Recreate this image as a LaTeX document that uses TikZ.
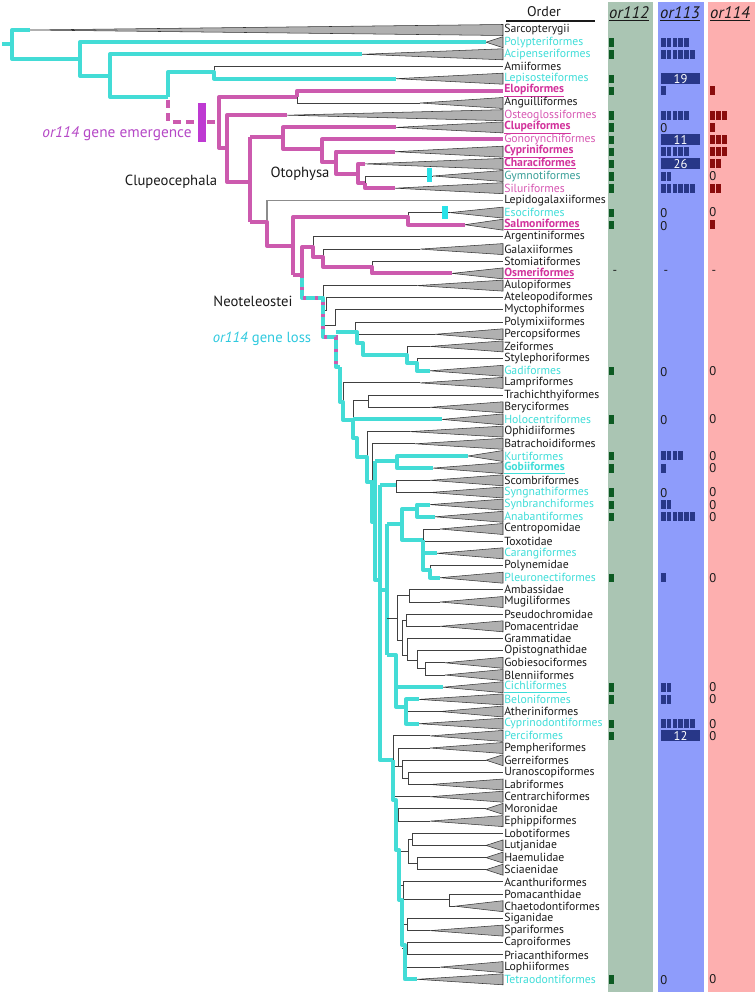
\documentclass[tikz,border=0pt]{standalone}
\usepackage{fontspec}
\setmainfont{PT Sans}
\definecolor{cyT}{HTML}{43DCD6}
\definecolor{mgT}{HTML}{CC5AAE}
\definecolor{labM}{HTML}{D757B2}
\definecolor{labMb}{HTML}{D2339C}
\definecolor{labC}{HTML}{3FDDD8}
\definecolor{labG}{HTML}{3A9F98}
\definecolor{purp}{HTML}{BE3AD2}
\definecolor{purpL}{HTML}{B548C6}
\definecolor{lossC}{HTML}{2FC9DE}
\definecolor{col2}{HTML}{AAC5B3}
\definecolor{col3}{HTML}{8E9CFB}
\definecolor{col4}{HTML}{FDAFAF}
\definecolor{tk2}{HTML}{0C5A22}
\definecolor{tk3}{HTML}{283788}
\definecolor{tk4}{HTML}{8A0C0C}
\definecolor{barC}{HTML}{28E2E8}
\definecolor{txt}{HTML}{1A1A1A}
\tikzset{
  cy/.style={cyT, line width=3pt, line join=round},
  mg/.style={mgT, line width=3pt, line join=round},
  th/.style={black!75, line width=0.7pt},
  tri/.style={fill=gray!62, draw=black!80, line width=0.4pt},
  lab/.style={font=\fontsize{8.8}{9.5}\selectfont, inner sep=0pt, anchor=west},
  num/.style={font=\fontsize{9.5}{10}\selectfont, inner sep=0pt},
  grp/.style={font=\fontsize{11}{12}\selectfont, inner sep=0pt, text=txt},
  hdr/.style={font=\fontsize{12.5}{13}\selectfont\itshape, inner sep=0pt, text=txt}
}
\newcommand{\tri}[2]{\filldraw[tri] (#1,#2) -- (503,{#2-5.5}) -- (503,{#2+5.5}) -- cycle;}
\begin{document}
\begin{tikzpicture}[x=0.75pt,y=-0.75pt]
\useasboundingbox (0,0) rectangle (755,994);
% columns
\fill[col2] (607.5,2) rectangle (653,992);
\fill[col3] (658,2) rectangle (703.5,992);
\fill[col4] (708,2) rectangle (755,992);
\node[hdr] (h2) at (629,14) {\underline{or112}};
\node[hdr] (h3) at (680,14) {\underline{or113}};
\node[hdr] (h4) at (730,14) {\underline{or114}};
\node[font=\fontsize{10.5}{11}\selectfont, inner sep=0pt, text=txt] (ord) at (544,12) {Order};
\draw[txt, line width=0.8pt] (506,21) -- (595,21);

% ---------- tree: basal ----------
\draw[cy] (2,44)--(12,44);
\tri{30}{30}
\draw[cy] (30,30)--(12,30)--(12,59)--(80,59);
\tri{486}{42.2}
\draw[cy] (486,42.2)--(80,42.2)--(80,76)--(110,76);
\tri{362}{54.3}
\draw[cy] (362,54.3)--(110,54.3)--(110,97)--(168,97);
\draw[th] (214,72)--(214,66.5)--(503,66.5);
\tri{396}{78.7}
\draw[cy] (168,97)--(168,72)--(214,72)--(214,78.7)--(396,78.7);
% gene emergence
\draw[mg, dash pattern=on 6pt off 4pt] (168,100)--(168,122)--(198,122);
\draw[mg, dash pattern=on 6pt off 3pt] (207,122)--(219,122);
\fill[purp] (198,103) rectangle (206,142);
% teleostei
\draw[th] (297,97)--(297,103)--(420,103); \tri{420}{103}
\draw[mg] (297,97)--(219,97)--(219,148)--(227,148);
\draw[mg] (297,97)--(297,90.9)--(503,90.9);
\tri{287}{115.2}
\draw[mg] (287,115.2)--(227,115.2)--(227,182)--(250,182);
\draw[mg] (250,137)--(250,222);
\draw[mg] (250,137)--(283,137);
\tri{396}{127.4}
\draw[mg] (396,127.4)--(283,127.4)--(283,149)--(322,149);
\draw[mg] (503,139.5)--(322,139.5)--(322,162)--(336,162);
\tri{395}{151.7}
\draw[mg] (395,151.7)--(336,151.7)--(336,174)--(358,174);
\tri{365}{163.9}
\draw[mg] (365,163.9)--(358,163.9)--(358,183)--(365,183);
\draw[th] (365,183)--(365,176)--(433,176); \tri{433}{176}
\fill[barC] (427,168) rectangle (432,182);
\tri{395}{188.2}
\draw[mg] (365,183)--(365,188.2)--(395,188.2);
% euteleostei
\draw[black!45, line width=0.8pt] (267,222)--(267,200.4)--(503,200.4);
\draw[mg] (250,222)--(267,222)--(267,246)--(293,246);
\draw[th] (408,217)--(408,212.6)--(450,212.6); \tri{450}{212.6}
\fill[barC] (442,206) rectangle (448,219);
\tri{465}{224.7}
\draw[mg] (293,275)--(293,217)--(408,217)--(408,224.7)--(465,224.7);
\draw[th] (313,247)--(313,236.9)--(503,236.9);
\draw[th] (323,257)--(323,249.1)--(420,249.1); \tri{420}{249.1}
\draw[th] (372,267)--(372,261.2)--(503,261.2);
\tri{452}{273.4}
\draw[mg] (293,275)--(302,275)--(302,247)--(313,247)--(313,257)--(323,257)--(323,267)--(372,267)--(372,273.4)--(452,273.4);
% neoteleostei
\draw[th] (323,298)--(323,285.6)--(417,285.6); \tri{417}{285.6}
\draw[th] (323,310)--(326,310)--(326,297.7)--(503,297.7);
\draw[th] (323,325)--(335,325)--(335,309.9)--(503,309.9);
\draw[cy] (302,275)--(302,298)--(323,298)--(323,337)--(336,337)--(336,367)--(340,367);
\draw[mgT, line width=3pt, dash pattern=on 2pt off 7pt] (302,275)--(302,298)--(323,298)--(323,337)--(336,337)--(336,367);
% paracanthopterygii
\draw[th] (355,332)--(355,322.1)--(503,322.1);
\draw[th] (357,334.3)--(435,334.3); \tri{435}{334.3}
\draw[th] (407,355)--(407,346.4)--(430,346.4); \tri{430}{346.4}
\draw[th] (417,363)--(417,358.6)--(503,358.6);
\tri{430}{370.8}
\draw[cy] (336,332)--(357,332)--(357,343)--(363,343)--(363,355)--(407,355)--(407,363)--(417,363)--(417,370.8)--(430,370.8);
% spine 1
\draw[th] (343,402)--(343,382.9)--(420,382.9); \tri{420}{382.9}
\draw[th] (353,420)--(353,400)--(368,400);
\draw[th] (368,395.1)--(503,395.1);
\draw[th] (368,395.1)--(368,407.3)--(430,407.3); \tri{430}{407.3}
\tri{442}{419.4}
\draw[cy] (353,419.4)--(442,419.4);
\draw[th] (367,457)--(367,431.6)--(410,431.6); \tri{410}{431.6}
\draw[th] (372,482)--(372,443.8)--(415,443.8); \tri{415}{443.8}
\draw[cy] (340,367)--(340,402)--(343,402)--(343,420)--(353,420)--(353,438)--(357,438)--(357,457)--(367,457)--(367,482)--(372,482)--(372,522)--(375,522);
% percomorpha
\tri{468}{456}\tri{433}{468.1}
\draw[cy] (375,461)--(375,580)--(380,580);
\draw[cy] (375,461)--(397,461);
\draw[cy] (468,456)--(397,456)--(397,468.1)--(433,468.1);
\draw[th] (396,480.3)--(396,492.5);
\draw[th] (396,480.3)--(430,480.3); \tri{430}{480.3}
\draw[th] (396,492.5)--(430,492.5); \tri{430}{492.5}
\draw[cy] (380,485)--(396,485);
\draw[cy] (380,485)--(380,760)--(393,760);
\draw[cy] (387,524)--(387,655);
\draw[cy] (380,590)--(387,590);
\tri{430}{504.6}\tri{435}{516.8}
\draw[cy] (387,524)--(402,524);
\draw[cy] (417,509)--(402,509)--(402,540)--(423,540);
\draw[cy] (430,504.6)--(417,504.6)--(417,516.8)--(435,516.8);
% carangaria
\draw[th] (423,540)--(423,529)--(440,529); \tri{440}{529}
\draw[th] (423,541.1)--(503,541.1);
\draw[th] (430,570)--(430,565.5)--(503,565.5);
\tri{437}{553.3}\tri{440}{577.7}
\draw[cy] (423,540)--(423,570)--(430,570)--(430,577.7)--(440,577.7);
\draw[cy] (423,553.3)--(437,553.3);
% ovalentaria
\draw[th] (387,618)--(397,618);
\draw[th] (397,595)--(397,640)--(402,640);
\draw[th] (397,595)--(409,595);
\draw[th] (409,589.8)--(503,589.8);
\draw[th] (409,589.8)--(409,602)--(440,602); \tri{440}{602}
\draw[th] (402,620)--(402,655)--(407,655);
\draw[th] (402,620)--(406,620);
\draw[th] (406,614.2)--(503,614.2);
\draw[th] (406,614.2)--(406,626.3)--(440,626.3); \tri{440}{626.3}
\draw[th] (407,638.5)--(503,638.5);
\draw[th] (407,638.5)--(407,660)--(417,660);
\draw[th] (417,650.7)--(503,650.7);
\draw[th] (417,650.7)--(417,668)--(425,668);
\draw[th] (425,662.8)--(445,662.8); \tri{445}{662.8}
\draw[th] (425,662.8)--(425,675)--(445,675); \tri{445}{675}
% atherinomorpha + cichli
\tri{443}{687.2}\tri{419}{699.4}\tri{419}{723.7}
\draw[th] (406,711.5)--(440,711.5); \tri{440}{711.5}
\draw[cy] (387,655)--(396,655)--(396,707)--(406,707);
\draw[cy] (396,687.2)--(443,687.2);
\draw[cy] (419,699.4)--(406,699.4)--(406,723.7)--(419,723.7);
% perciformes & eupercaria
\draw[th] (393,760)--(393,735.9)--(430,735.9); \tri{430}{735.9}
\draw[th] (393,766)--(398,766);
\draw[th] (398,748)--(398,766)--(402,766);
\draw[th] (398,748)--(430,748); \tri{430}{748}
\draw[th] (402,760.2)--(486,760.2); \tri{486}{760.2}
\draw[th] (402,760.2)--(402,778)--(408,778);
\draw[th] (408,772.4)--(503,772.4);
\draw[th] (408,772.4)--(408,784.5)--(430,784.5); \tri{430}{784.5}
\draw[th] (394,796.7)--(430,796.7); \tri{430}{796.7}
\draw[th] (396,815)--(398,815);
\draw[th] (398,808.9)--(486,808.9); \tri{486}{808.9}
\draw[th] (398,808.9)--(398,821.1)--(430,821.1); \tri{430}{821.1}
\draw[th] (399,851)--(408,851);
\draw[th] (408,839)--(408,863);
\draw[th] (408,839)--(412,839);
\draw[th] (412,833.2)--(503,833.2);
\draw[th] (412,833.2)--(412,845.4)--(486,845.4); \tri{486}{845.4}
\draw[th] (408,863)--(417,863);
\draw[th] (417,857.6)--(486,857.6); \tri{486}{857.6}
\draw[th] (417,857.6)--(417,869.7)--(486,869.7); \tri{486}{869.7}
\draw[th] (399,885)--(403,885);
\draw[th] (403,881.9)--(503,881.9);
\draw[th] (403,881.9)--(403,899)--(449,899);
\draw[th] (449,894.1)--(503,894.1);
\draw[th] (449,894.1)--(449,906.2)--(455,906.2); \tri{455}{906.2}
\draw[th] (402,924)--(407,924);
\draw[th] (407,918.4)--(503,918.4);
\draw[th] (407,918.4)--(407,930.6)--(430,930.6); \tri{430}{930.6}
\draw[th] (402,948)--(407,948);
\draw[th] (407,942.8)--(503,942.8);
\draw[th] (407,942.8)--(407,954.9)--(503,954.9);
\draw[th] (405,967.1)--(440,967.1); \tri{440}{967.1}
\tri{417}{979.3}
\draw[cy] (393,760)--(393,800)--(396,800)--(396,850)--(399,850)--(399,900)--(402,900)--(402,945)--(405,945)--(405,979.3)--(417,979.3);

% group labels
\node[grp] (clu) at (171,182) {Clupeocephala};
\node[grp] (oto) at (300,174) {Otophysa};
\node[grp] (neo) at (253,301) {Neoteleostei};
\node[grp, text=lossC] (loss) at (262,339) {\textit{or114} gene loss};
\node[grp, text=purpL, font=\fontsize{11.5}{12}\selectfont] (emg) at (117,134) {\textit{or114} gene emergence};

% leaf labels
\foreach \i/\t/\c in {1/Sarcopterygii/txt, 2/Polypteriformes/labC, 3/Acipenseriformes/labC, 4/Amiiformes/txt,
 5/Lepisosteiformes/labC, 6/{\underline{\textbf{Elopiformes}}}/labMb, 7/Anguilliformes/txt, 8/Osteoglossiformes/labM,
 9/{\underline{\textbf{Clupeiformes}}}/labMb, 10/Gonorynchiformes/labM, 11/{\underline{\textbf{Cypriniformes}}}/labMb,
 12/{\underline{\textbf{Characiformes}}}/labMb, 13/Gymnotiformes/labG, 14/Siluriformes/labM, 15/Lepidogalaxiiformes/txt,
 16/Esociformes/labC, 17/{\underline{\textbf{Salmoniformes}}}/labMb, 18/Argentiniformes/txt, 19/Galaxiiformes/txt,
 20/Stomiatiformes/txt, 21/{\underline{\textbf{Osmeriformes}}}/labMb, 22/Aulopiformes/txt, 23/Ateleopodiformes/txt,
 24/Myctophiformes/txt, 25/Polymixiiformes/txt, 26/Percopsiformes/txt, 27/Zeiformes/txt, 28/Stylephoriformes/txt,
 29/Gadiformes/labC, 30/Lampriformes/txt, 31/Trachichthyiformes/txt, 32/Beryciformes/txt, 33/Holocentriformes/labC,
 34/Ophidiiformes/txt, 35/Batrachoidiformes/txt, 36/Kurtiformes/labC, 37/{\underline{\textbf{Gobiiformes}}}/labC,
 38/Scombriformes/txt, 39/Syngnathiformes/labC, 40/Synbranchiformes/labC, 41/Anabantiformes/labC,
 42/Centropomidae/txt, 43/Toxotidae/txt, 44/Carangiformes/labC, 45/Polynemidae/txt, 46/Pleuronectiformes/labC,
 47/Ambassidae/txt, 48/Mugiliformes/txt, 49/Pseudochromidae/txt, 50/Pomacentridae/txt, 51/Grammatidae/txt,
 52/Opistognathidae/txt, 53/Gobiesociformes/txt, 54/Blenniiformes/txt, 55/{\underline{Cichliformes}}/labC,
 56/Beloniformes/labC, 57/Atheriniformes/txt, 58/Cyprinodontiformes/labC, 59/Perciformes/labC,
 60/Pempheriformes/txt, 61/Gerreiformes/txt, 62/Uranoscopiformes/txt, 63/Labriformes/txt, 64/Centrarchiformes/txt,
 65/Moronidae/txt, 66/Ephippiformes/txt, 67/Lobotiformes/txt, 68/Lutjanidae/txt, 69/Haemulidae/txt,
 70/Sciaenidae/txt, 71/Acanthuriformes/txt, 72/Pomacanthidae/txt, 73/Chaetodontiformes/txt, 74/Siganidae/txt,
 75/Spariformes/txt, 76/Caproiformes/txt, 77/Priacanthiformes/txt, 78/Lophiiformes/txt, 79/Tetraodontiformes/labC}
 { \node[lab, text=\c] (L\i) at (504,{30+(\i-1)*12.17}) {\t}; }

% or112 ticks
\foreach \i in {2,3,5,6,8,9,10,11,12,13,14,16,17,29,33,36,37,39,40,41,46,55,56,58,59,79}
 { \fill[tk2] (609,{30+(\i-1)*12.17-4}) rectangle (614,{30+(\i-1)*12.17+4.5}); }
% or113 ticks
\foreach \i/\n in {2/5,3/6,6/1,8/5,11/5,13/2,14/6,36/4,37/1,40/2,41/6,46/1,55/2,56/2,58/6}
 { \foreach \k in {1,...,\n} { \fill[tk3] ({661+(\k-1)*5.8},{30+(\i-1)*12.17-4.5}) rectangle ++(4.6,9); } }
\foreach \i/\v in {5/19,10/11,12/26,59/12}
 { \fill[tk3] (661,{30+(\i-1)*12.17-5.5}) rectangle (700,{30+(\i-1)*12.17+5.5});
   \node[num, text=white] (n\i) at (680.5,{30+(\i-1)*12.17}) {\v}; }
\foreach \i in {9,16,17,29,33,39,79}
 { \node[num, anchor=west, text=txt] (z\i) at (660,{30+(\i-1)*12.17+1}) {0}; }
% or114 ticks
\foreach \i/\n in {6/1,8/3,9/1,10/3,11/3,12/2,14/2,17/1}
 { \foreach \k in {1,...,\n} { \fill[tk4] ({710+(\k-1)*6},{30+(\i-1)*12.17-4.5}) rectangle ++(4.6,9); } }
\foreach \i in {13,16,29,33,36,37,39,40,41,46,55,56,58,59,79}
 { \node[num, anchor=west, text=txt] (y\i) at (709,{30+(\i-1)*12.17}) {0}; }
% osmeriformes dashes
\node[num, text=txt] (d2) at (615,272) {-};
\node[num, text=txt] (d3) at (666,272) {-};
\node[num, text=txt] (d4) at (714,272) {-};
\end{tikzpicture}
\end{document}
